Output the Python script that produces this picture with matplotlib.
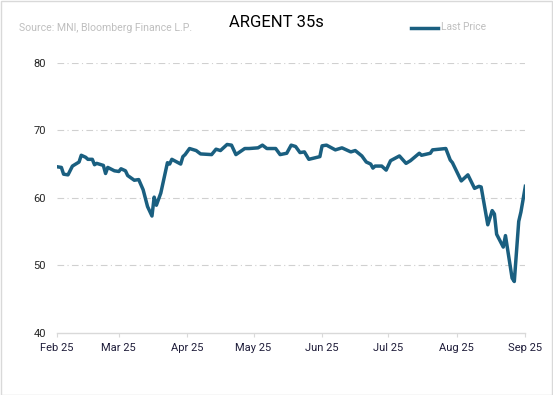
import numpy as np
import pandas as pd
import matplotlib
matplotlib.use("Agg")
from matplotlib import pyplot as plt
import matplotlib.dates as mdates
from matplotlib.patches import Rectangle

####################################
### Data
####################################

dates = ["2025-02-01", "2025-02-03", "2025-02-04", "2025-02-06", "2025-02-08",
         "2025-02-11", "2025-02-12", "2025-02-14", "2025-02-15", "2025-02-17",
         "2025-02-18", "2025-02-19", "2025-02-22", "2025-02-23", "2025-02-24",
         "2025-02-27", "2025-03-01", "2025-03-02", "2025-03-04", "2025-03-05",
         "2025-03-08", "2025-03-10", "2025-03-12", "2025-03-14", "2025-03-16",
         "2025-03-17", "2025-03-18", "2025-03-20", "2025-03-23", "2025-03-24",
         "2025-03-25", "2025-03-29", "2025-03-30", "2025-03-31", "2025-04-02",
         "2025-04-05", "2025-04-07", "2025-04-12", "2025-04-14", "2025-04-16",
         "2025-04-19", "2025-04-21", "2025-04-23", "2025-04-27", "2025-04-29",
         "2025-05-03", "2025-05-05", "2025-05-07", "2025-05-11", "2025-05-13",
         "2025-05-16", "2025-05-18", "2025-05-20", "2025-05-22", "2025-05-24",
         "2025-05-26", "2025-05-31", "2025-06-01", "2025-06-03", "2025-06-07",
         "2025-06-10", "2025-06-14", "2025-06-16", "2025-06-19", "2025-06-21",
         "2025-06-23", "2025-06-24", "2025-06-25", "2025-06-28", "2025-06-30",
         "2025-07-02", "2025-07-06", "2025-07-09", "2025-07-11", "2025-07-15",
         "2025-07-16", "2025-07-20", "2025-07-21", "2025-07-27", "2025-07-29",
         "2025-07-30", "2025-08-03", "2025-08-06", "2025-08-09", "2025-08-11",
         "2025-08-12", "2025-08-15", "2025-08-17", "2025-08-18", "2025-08-19",
         "2025-08-22", "2025-08-23", "2025-08-26", "2025-08-27", "2025-08-29",
         "2025-08-30", "2025-09-01"]

last_price = [64.6, 64.5, 63.5, 63.4, 64.7,
              65.3, 66.3, 66.0, 65.7, 65.7,
              64.9, 65.1, 64.8, 63.6, 64.5,
              64.0, 63.9, 64.3, 64.0, 63.3,
              62.6, 62.7, 61.2, 58.7, 57.3,
              60.1, 58.9, 60.7, 65.2, 65.0,
              65.7, 65.0, 66.1, 66.4, 67.3,
              67.0, 66.5, 66.4, 67.2, 67.0,
              67.9, 67.8, 66.4, 67.3, 67.3,
              67.4, 67.8, 67.3, 67.3, 66.4,
              66.6, 67.8, 67.6, 66.7, 66.8,
              65.7, 66.1, 67.7, 67.8, 67.1,
              67.4, 66.8, 67.0, 66.2, 65.3,
              65.0, 64.4, 64.7, 64.7, 64.1,
              65.5, 66.2, 65.1, 65.5, 66.6,
              66.3, 66.6, 67.1, 67.3, 65.6,
              65.2, 62.5, 63.4, 61.4, 61.7,
              61.6, 56.0, 58.1, 57.6, 54.6,
              52.7, 54.4, 48.1, 47.6, 56.5,
              57.9, 61.7]

y_ticks = [40, 50, 60, 70, 80]

x = pd.to_datetime(dates)

######################
### Create the figure
#####################

plt.rcdefaults()
plt.rcParams["font.family"] = ["Roboto", "DejaVu Sans"]

fig = plt.figure(figsize=(5.53, 3.95), dpi=100)
ax = fig.add_axes([0.103, 0.1575, 0.847, 0.6835])

line_col = "#1a5f80"
ax.plot(x, last_price, color=line_col, linewidth=2.5, solid_joinstyle="round")

######################
### Axes style
#####################

ax.set_xlim(pd.Timestamp("2025-02-01"), pd.Timestamp("2025-09-01"))
ax.set_ylim(40, 80)
ax.set_yticks(y_ticks)
ax.xaxis.set_major_locator(mdates.MonthLocator())
ax.xaxis.set_major_formatter(mdates.DateFormatter("%b %y"))

for s in ["top", "right", "left"]:
    ax.spines[s].set_visible(False)
ax.spines["bottom"].set_color("#d9d9d9")
ax.spines["bottom"].set_linewidth(1.0)

ax.grid(axis="y", color="#d0d0d0", linestyle=(0, (6, 3, 1, 3)), linewidth=0.8)
ax.set_axisbelow(True)
gl = ax.get_ygridlines()
gl[0].set_visible(False)

ax.tick_params(axis="y", length=0, pad=8, labelsize=8, labelcolor="#262626")
ax.tick_params(axis="x", length=3, color="#d9d9d9", pad=4, labelsize=8,
               labelcolor="#1f1d3a")

######################
### Titles, source and legend
#####################

fig.text(0.499, 0.943, "ARGENT 35s", ha="center", va="center", fontsize=12,
         color="black")
fig.text(0.034, 0.929, "Source: MNI, Bloomberg Finance L.P.", ha="left",
         va="center", fontsize=7.6, color="#bfbfbf")
fig.lines.append(plt.Line2D([411 / 553, 438 / 553], [1 - 28 / 395, 1 - 28 / 395],
                            transform=fig.transFigure, color=line_col, linewidth=2.5))
fig.text(441 / 553, 1 - 27 / 395, "Last Price", ha="left", va="center",
         fontsize=7.3, color="#bfbfbf")

fig.patches.append(Rectangle((0.001, 0.001), 0.997, 0.997, transform=fig.transFigure,
                             fill=False, edgecolor="#d9d9d9", linewidth=1.0))

plt.savefig("out.png", dpi=100)
